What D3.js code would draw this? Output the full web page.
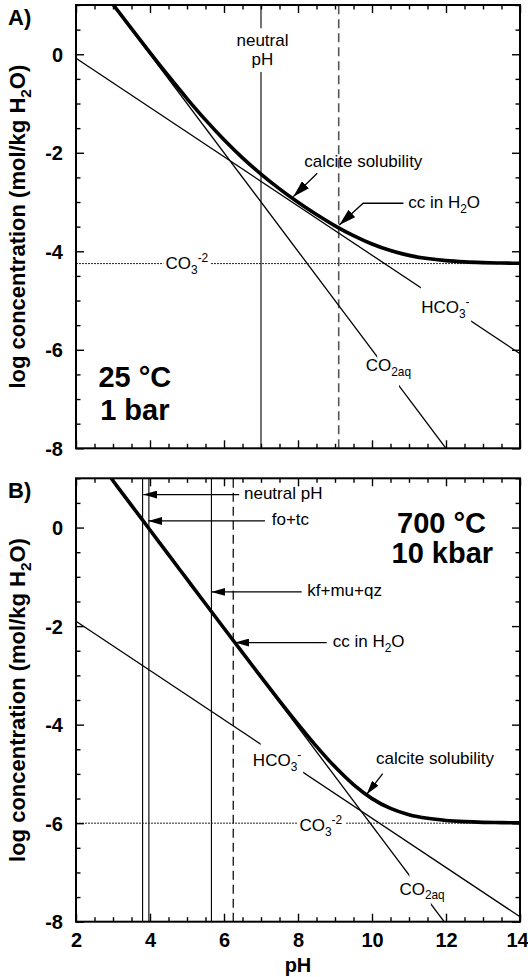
<!DOCTYPE html>
<html><head><meta charset="utf-8">
<script src="https://cdn.jsdelivr.net/npm/d3@7"></script>
<style>
body{margin:0;background:#fff}
svg{display:block}
text{font-family:"Liberation Sans",Arial,Helvetica,sans-serif;fill:#000}
</style>
</head><body><div id="chart"></div>
<script>
// ================= DATA =================
// x axis
const xTicksMajor = [2, 4, 6, 8, 10, 12, 14];
const yTicksMajor = [-8, -6, -4, -2, 0];

// Panel A: 25 °C, 1 bar — total calcite solubility (log mol/kg H2O)
const pH_A = [3,3.5,4,4.5,5,5.5,6,6.5,7,7.5,8,8.5,9,9.5,10,10.5,11,11.5,12,12.5,13,13.5,14];
const calciteA = [1.011,0.520,0.035,-0.440,-0.899,-1.333,-1.736,-2.103,-2.433,-2.733,-3.005,-3.255,-3.483,-3.683,-3.853,-3.986,-4.083,-4.148,-4.190,-4.215,-4.230,-4.239,-4.244];
const co2A_pH = [3, 12];
const co2A = [1, -8];
const hco3_pH = [2, 14];
const hco3A = [-0.08, -6.08];
const co3_pH = [2, 14];
const co3A = [-4.25, -4.25];
const refNamesA = ["neutral pH", "cc in H2O"];
const refPH_A = [7.0, 9.1];

// Panel B: 700 °C, 10 kbar
const pH_B = [2.95,3,3.5,4,4.5,5,5.5,6,6.5,7,7.5,8,8.5,9,9.5,10,10.5,11,11.5,12,12.5,13,13.5,14];
const calciteB = [1.000,0.950,0.450,-0.049,-0.549,-1.048,-1.547,-2.044,-2.539,-3.031,-3.516,-3.988,-4.441,-4.857,-5.218,-5.502,-5.701,-5.828,-5.902,-5.945,-5.969,-5.983,-5.990,-5.995];
const co2B_pH = [2.95, 11.95];
const co2B = [1, -8];
const hco3B = [-1.9, -7.9];
const co3B = [-6, -6];
const refNamesB = ["neutral pH", "fo+tc", "kf+mu+qz", "cc in H2O"];
const refPH_B = [3.8, 3.97, 5.66, 6.25];

// ================= LAYOUT =================
const W = 528, H = 977;
const FONT = 17;
const svg = d3.select("#chart").append("svg").attr("width", W).attr("height", H);
const defs = svg.append("defs");
const x = d3.scaleLinear().domain([2, 14]).range([76, 520]);
const yA = d3.scaleLinear().domain([-8, 1]).range([448.3, 5]);
const yB = d3.scaleLinear().domain([-8, 1]).range([921.7, 478.3]);

function marker(id, len, wid) {
  defs.append("marker").attr("id", id)
    .attr("viewBox", `0 0 ${len} ${wid}`).attr("refX", len).attr("refY", wid / 2)
    .attr("markerWidth", len).attr("markerHeight", wid)
    .attr("markerUnits", "userSpaceOnUse").attr("orient", "auto")
    .append("path").attr("d", `M0,0L${len},${wid / 2}L0,${wid}Z`).attr("fill", "#000");
}
marker("ahA", 17, 10);
marker("ahB", 14, 8);

function rich(sel, parts, size) {
  let off = 0;
  parts.forEach(p => {
    const t = typeof p === "string" ? p : p[0];
    const kind = typeof p === "string" ? null : p[1];
    const target = kind === "sub" ? 0.28 * size : kind === "sup" ? -0.42 * size : 0;
    sel.append("tspan").attr("dy", (target - off).toFixed(2))
      .attr("font-size", kind ? size * 0.7 : size).text(t);
    off = target;
  });
  return sel;
}

let maskCount = 0;
function gapMask(gaps) {
  const id = "m" + (maskCount++);
  const m = defs.append("mask").attr("id", id).attr("maskUnits", "userSpaceOnUse")
    .attr("x", 0).attr("y", 0).attr("width", W).attr("height", H);
  m.append("rect").attr("width", W).attr("height", H).attr("fill", "#fff");
  gaps.forEach(g => {
    m.append("rect").attr("x", x(g[0])).attr("y", 0)
      .attr("width", x(g[1]) - x(g[0])).attr("height", H).attr("fill", "#000");
  });
  return `url(#${id})`;
}

function panel(cfg) {
  const y = cfg.y;
  const [y0, y1] = y.range();
  const clipId = "clip" + cfg.key;
  defs.append("clipPath").attr("id", clipId).append("rect")
    .attr("x", x(2)).attr("y", y1).attr("width", x(14) - x(2)).attr("height", y0 - y1);
  const g = svg.append("g").attr("clip-path", `url(#${clipId})`);
  const line = d3.line().x(d => x(d[0])).y(d => y(d[1]));

  // vertical reference lines
  cfg.refs.forEach(r => {
    (r.segments || [[-8, 1]]).forEach(s => {
      g.append("line").attr("x1", x(r.pH)).attr("x2", x(r.pH))
        .attr("y1", y(s[0])).attr("y2", y(s[1]))
        .attr("stroke", r.dashed ? cfg.dashColor : "#000")
        .attr("stroke-width", r.dashed ? cfg.dashWidth : 1.1)
        .attr("stroke-dasharray", r.dashed ? "9,5" : null);
    });
  });

  // carbonate ion line
  g.append("path").datum(d3.zip(co3_pH, cfg.co3)).attr("d", line)
    .attr("fill", "none").attr("stroke", "#222").attr("stroke-width", 1)
    .attr("stroke-dasharray", "2,1").attr("mask", gapMask([cfg.co3Gap]));
  // bicarbonate
  g.append("path").datum(d3.zip(hco3_pH, cfg.hco3)).attr("d", line)
    .attr("fill", "none").attr("stroke", "#000").attr("stroke-width", 1.3)
    .attr("mask", gapMask([cfg.hco3Gap]));
  // CO2aq
  g.append("path").datum(d3.zip(cfg.co2pH, cfg.co2)).attr("d", line)
    .attr("fill", "none").attr("stroke", "#000").attr("stroke-width", 1.3)
    .attr("mask", gapMask([cfg.co2Gap]));
  // total calcite solubility
  g.append("path").datum(d3.zip(cfg.pH, cfg.total))
    .attr("d", line.curve(d3.curveMonotoneX))
    .attr("fill", "none").attr("stroke", "#000").attr("stroke-width", 3.6)
    .attr("stroke-linejoin", "round");

  // axes: ticks inside on all four sides
  const minorX = d3.range(2, 14.001, 0.5).filter(v => !xTicksMajor.includes(v));
  const minorY = d3.range(-8, 1.001, 0.5).filter(v => !yTicksMajor.includes(v));
  const ax = svg.append("g");
  const mk = (axisFn, scale, vals, len, tr) => {
    const a = ax.append("g").attr("transform", tr)
      .call(axisFn(scale).tickValues(vals).tickSize(-len).tickSizeOuter(0).tickFormat(""));
    a.select(".domain").remove();
    a.selectAll(".tick line").attr("stroke", "#000").attr("stroke-width", 1.4);
    return a;
  };
  mk(d3.axisBottom, x, minorX, 4.5, `translate(0,${y0})`);
  mk(d3.axisBottom, x, xTicksMajor, 8, `translate(0,${y0})`);
  mk(d3.axisTop, x, minorX, 4.5, `translate(0,${y1})`);
  mk(d3.axisTop, x, xTicksMajor, 8, `translate(0,${y1})`);
  mk(d3.axisLeft, y, minorY, 4.5, `translate(${x(2)},0)`);
  const ly = mk(d3.axisLeft, y, yTicksMajor, 8, `translate(${x(2)},0)`);
  mk(d3.axisRight, y, minorY, 4.5, `translate(${x(14)},0)`);
  mk(d3.axisRight, y, yTicksMajor, 8, `translate(${x(14)},0)`);

  ly.selectAll(".tick text").text(d => d3.format("d")(d).replace("−", "-"))
    .attr("x", -13).attr("dy", "0.36em").attr("font-size", 20).attr("font-weight", "bold")
    .attr("fill", "#000").attr("font-family", '"Liberation Sans",Arial,sans-serif');

  if (cfg.xLabels) {
    const lx = mk(d3.axisBottom, x, xTicksMajor, 8, `translate(0,${y0})`);
    lx.selectAll(".tick line").remove();
    lx.selectAll(".tick text").text(d => d).attr("y", 25.6).attr("dy", null)
      .attr("x", d => d === 14 ? -3 : 0)
      .attr("font-size", 20).attr("font-weight", "bold").attr("fill", "#000")
      .attr("font-family", '"Liberation Sans",Arial,sans-serif');
  }

  // frame
  svg.append("rect").attr("x", x(2)).attr("y", y1).attr("width", x(14) - x(2))
    .attr("height", y0 - y1).attr("fill", "none").attr("stroke", "#000").attr("stroke-width", 2);

  // y title
  const cy = (y0 + y1) / 2;
  rich(svg.append("text").attr("transform", `translate(25,${cy}) rotate(-90)`)
    .attr("text-anchor", "middle").attr("font-weight", "bold"),
    ["log concentration (mol/kg H", ["2", "sub"], "O)"], 22);

  // panel letter
  svg.append("text").attr("x", 8).attr("y", y1 + 20).attr("font-size", 22)
    .attr("font-weight", "bold").text(cfg.key + ")");

  // conditions
  cfg.cond.forEach(c => {
    svg.append("text").attr("x", x(c.pH)).attr("y", y(c.v)).attr("text-anchor", "middle")
      .attr("font-size", 29).attr("font-weight", "bold").text(c.text);
  });

  // labels
  cfg.labels.forEach(l => {
    const t = svg.append("text").attr("x", x(l.pH)).attr("y", y(l.v))
      .attr("text-anchor", l.anchor || "start");
    rich(t, l.parts, FONT);
  });

  // arrows
  cfg.arrows.forEach(a => {
    svg.append("path").datum(a).attr("d", d3.line().x(d => x(d[0])).y(d => y(d[1])))
      .attr("fill", "none").attr("stroke", "#000").attr("stroke-width", 1.3)
      .attr("marker-end", `url(#${cfg.marker})`);
  });
}

// ---------- Panel A ----------
panel({
  key: "A", y: yA, xLabels: false, marker: "ahA",
  pH: pH_A, total: calciteA, co2pH: co2A_pH, co2: co2A, hco3: hco3A, co3: co3A,
  co3Gap: [4.36, 5.64], hco3Gap: [11.32, 12.68], co2Gap: [10.14, 10.73],
  dashColor: "#555", dashWidth: 1.6,
  refs: [
    { pH: refPH_A[0], segments: [[-8, -0.36], [0.53, 1]] },
    { pH: refPH_A[1], dashed: true }
  ],
  cond: [{ text: "25 °C", pH: 3.59, v: -6.75 }, { text: "1 bar", pH: 3.59, v: -7.42 }],
  labels: [
    { parts: ["neutral"], pH: 7.04, v: 0.17, anchor: "middle" },
    { parts: ["pH"], pH: 7.04, v: -0.21, anchor: "middle" },
    { parts: ["calcite solubility"], pH: 9.765, v: -2.282, anchor: "middle" },
    { parts: ["cc in H", ["2", "sub"], "O"], pH: 10.98, v: -3.12 },
    { parts: ["CO", ["3", "sub"], ["-2", "sup"]], pH: 4.42, v: -4.365 },
    { parts: ["HCO", ["3", "sub"], ["-", "sup"]], pH: 11.33, v: -5.25 },
    { parts: ["CO", ["2aq", "sub"]], pH: 9.83, v: -6.44 }
  ],
  arrows: [
    [[8.52, -2.416], [7.873, -2.891]],
    [[10.85, -3.025], [9.76, -3.025], [9.116, -3.465]]
  ]
});

// ---------- Panel B ----------
panel({
  key: "B", y: yB, xLabels: true, marker: "ahB",
  pH: pH_B, total: calciteB, co2pH: co2B_pH, co2: co2B, hco3: hco3B, co3: co3B,
  co3Gap: [7.98, 9.30], hco3Gap: [6.99, 8.14], co2Gap: [11.01, 11.59],
  dashColor: "#111", dashWidth: 1.3,
  refs: [
    { pH: refPH_B[0] }, { pH: refPH_B[1] }, { pH: refPH_B[2] },
    { pH: refPH_B[3], dashed: true }
  ],
  cond: [{ text: "700 °C", pH: 11.88, v: -0.116 }, { text: "10 kbar", pH: 11.9, v: -0.725 }],
  labels: [
    { parts: [refNamesB[0]], pH: 6.54, v: 0.58 },
    { parts: [refNamesB[1]], pH: 7.29, v: 0.045 },
    { parts: [refNamesB[2]], pH: 8.25, v: -1.397 },
    { parts: ["cc in H", ["2", "sub"], "O"], pH: 8.938, v: -2.424 },
    { parts: ["calcite solubility"], pH: 10.108, v: -4.805 },
    { parts: ["HCO", ["3", "sub"], ["-", "sup"]], pH: 6.78, v: -4.84 },
    { parts: ["CO", ["3", "sub"], ["-2", "sup"]], pH: 8.04, v: -6.16 },
    { parts: ["CO", ["2aq", "sub"]], pH: 10.74, v: -7.45 }
  ],
  arrows: [
    [[6.41, 0.670], [3.82, 0.670]],
    [[7.108, 0.134], [3.954, 0.134]],
    [[8.10, -1.307], [5.657, -1.307]],
    [[8.776, -2.335], [6.297, -2.335]],
    [[10.289, -4.994], [9.857, -5.414]]
  ]
});

// x title
svg.append("text").attr("x", x(8)).attr("y", 972).attr("text-anchor", "middle")
  .attr("font-size", 20).attr("font-weight", "bold").text("pH");
</script>
</body></html>
